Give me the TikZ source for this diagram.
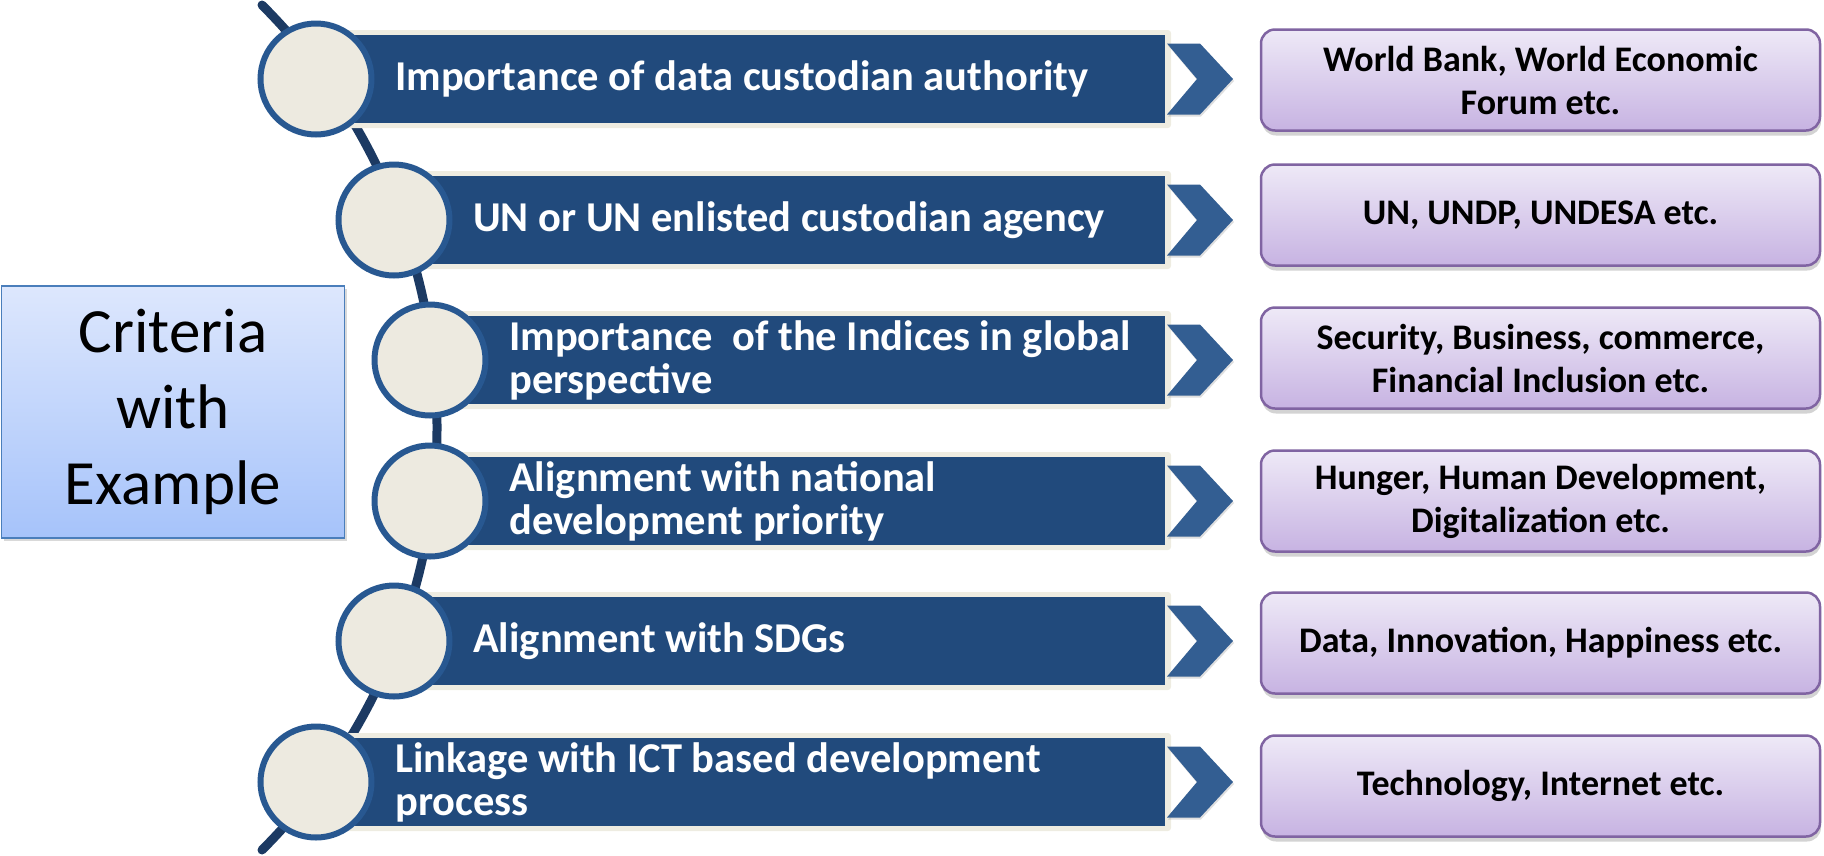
\documentclass[tikz,border=0pt]{standalone}
\usepackage{fontspec}
\setmainfont{Carlito}
\usetikzlibrary{shadows}
\definecolor{barblue}{HTML}{214A7C}
\definecolor{barbeige}{HTML}{EEECE1}
\definecolor{circfill}{HTML}{EDEAE0}
\definecolor{circborder}{HTML}{285891}
\definecolor{spinecol}{HTML}{1C3A63}
\definecolor{chevcol}{HTML}{335E92}
\definecolor{purpborder}{HTML}{8064A2}
\definecolor{purptop}{HTML}{EEE9F7}
\definecolor{purpbot}{HTML}{C7B3E2}
\definecolor{crittop}{HTML}{DDE7FD}
\definecolor{critbot}{HTML}{A6C3FA}
\definecolor{critborder}{HTML}{4A7EBB}
\tikzset{
  spine/.style={draw=spinecol, line width=9pt, line cap=round},
  circ/.style={circle, draw=circborder, fill=circfill, line width=6pt, minimum size=111pt, inner sep=0pt},
  bartxt/.style={text=white, font=\bfseries\fontsize{42.5}{43}\selectfont, align=left, inner sep=0pt, anchor=west},
  chev/.style={fill=chevcol, drop shadow={shadow xshift=1pt, shadow yshift=-2pt, opacity=0.25}},
  pbox/.style={rectangle, rounded corners=14pt, draw=purpborder, line width=2.5pt, top color=purptop, bottom color=purpbot,
    minimum width=559pt, minimum height=101pt, align=center, font=\bfseries\fontsize{36}{43}\selectfont, text=black,
    drop shadow={shadow xshift=1pt, shadow yshift=-5pt, opacity=0.35}},
  critbox/.style={rectangle, draw=critborder, line width=1.5pt, top color=crittop, bottom color=critbot,
    minimum width=343pt, minimum height=252pt, align=center, font=\fontsize{63}{76}\selectfont, text=black,
    drop shadow={shadow xshift=2pt, shadow yshift=-3pt, opacity=0.3}}
}
\begin{document}
\begin{tikzpicture}[x=1pt,y=-1pt]
\useasboundingbox (0,0) rectangle (1824,855);
% spine
\coordinate (ltop) at (262,5);
\draw[spine] (ltop) arc[start angle=45, end angle=-45, radius=597.5pt];
% rows
\foreach \i/\cx/\cy/\txt/\bt/\by in {
  1/316/79/{Importance of data custodian authority}/{World Bank, World Economic\\Forum etc.}/80,
  2/394/220/{UN or UN enlisted custodian agency}/{UN, UNDP, UNDESA etc.}/215,
  3/430/360/{Importance\ \ of the Indices in global\\perspective}/{Security, Business, commerce,\\Financial Inclusion etc.}/358,
  4/430/501/{Alignment with national\\development priority}/{Hunger, Human Development,\\Digitalization etc.}/501,
  5/394/641/{Alignment with SDGs}/{Data, Innovation, Happiness etc.}/643,
  6/316/782/{Linkage with ICT based development\\process}/{Technology, Internet etc.}/786}{
  \fill[barbeige, rounded corners=3pt] (\cx,\cy-49) rectangle (1171,\cy+49);
  \fill[barblue] (\cx,\cy-44) rectangle (1165,\cy+44);
  \node[circ] (c\i) at (\cx,\cy) {};
  \node[bartxt] (t\i) at (\cx+79,\cy) {\txt};
  \path[chev] (1167,\cy-35.5) -- (1200,\cy-35.5) -- (1233,\cy) -- (1200,\cy+35.5) -- (1167,\cy+35.5) -- (1197,\cy) -- cycle;
  \node[pbox] (e\i) at (1540.5,\by) {\bt};
}
% criteria box
\node[critbox] (crit) at (173,412) {Criteria\\with\\Example};
\end{tikzpicture}
\end{document}
